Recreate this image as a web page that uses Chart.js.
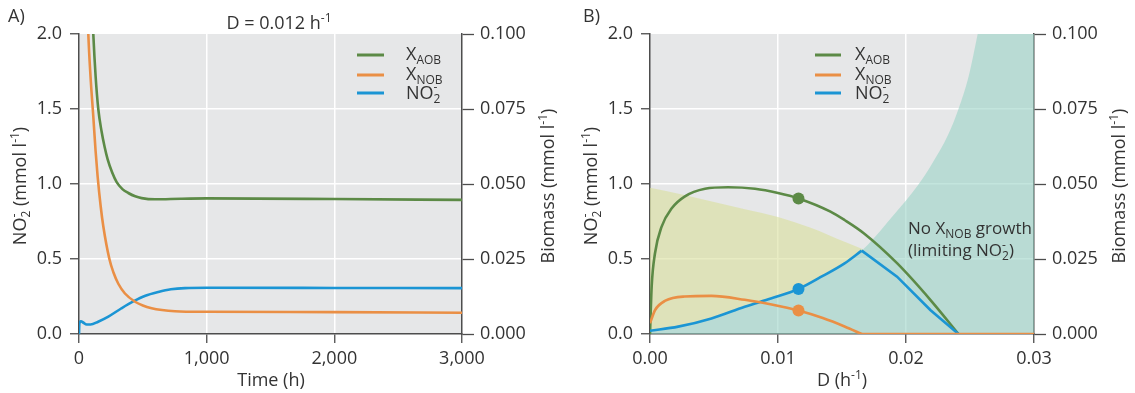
<!DOCTYPE html>
<html>
<head>
<meta charset="utf-8">
<script src="https://cdn.jsdelivr.net/npm/chart.js@4.4.1/dist/chart.umd.min.js"></script>
<style>
body { margin: 0; background: #fff; }
#wrap { position: relative; width: 1135px; height: 393px; }
canvas { position: absolute; top: 0; }
#chartA { left: 0; }
#chartB { left: 567px; }
</style>
</head>
<body>
<div id="wrap">
    <canvas id="chartA" width="567" height="393"></canvas>
    <canvas id="chartB" width="568" height="393"></canvas>
</div>
<script>
// ---- Panel A: D = 0.012 h-1 (tiempo en h) ----
const tiempoAOB = [80, 100, 112, 130, 151, 177, 200, 224, 260, 295, 340, 386, 440, 491, 595, 800, 1000, 2000, 3000];
const xAOB_A = [0.145, 0.113, 0.1, 0.086, 0.075, 0.0675, 0.0625, 0.0583, 0.0538, 0.0506, 0.0483, 0.047, 0.0459, 0.0453, 0.0449, 0.0451, 0.0452, 0.045, 0.0447];
const tiempoNOB = [55, 73, 90, 112, 130, 146, 170, 190, 238, 270, 308, 360, 439, 500, 569, 650, 752, 1000, 2000, 3000];
const xNOB_A = [0.125, 0.1, 0.086, 0.0725, 0.061, 0.0525, 0.0425, 0.036, 0.025, 0.0205, 0.01675, 0.0135, 0.01075, 0.0095, 0.0086, 0.008, 0.0076, 0.0074, 0.0073, 0.0071];
const tiempoNO2 = [0, 3, 15, 35, 60, 90, 150, 230, 330, 425, 520, 621, 720, 830, 1000, 2000, 3000];
const no2A = [0, 0.07, 0.085, 0.075, 0.063, 0.063, 0.082, 0.116, 0.17, 0.217, 0.255, 0.28, 0.298, 0.306, 0.308, 0.307, 0.306];

// ---- Panel B: estado estacionario vs D ----
const dAOB = [0, 0.00013, 0.00039, 0.00091, 0.0017, 0.0027, 0.0043, 0.0061, 0.0082, 0.0100, 0.0116, 0.0141, 0.0152, 0.0167, 0.0193, 0.0219, 0.0241];
const xAOB_B = [0, 0.0158, 0.0269, 0.0358, 0.0419, 0.0458, 0.0484, 0.0489, 0.0484, 0.047, 0.0452, 0.0408, 0.038, 0.0336, 0.0236, 0.0114, 0];
const dNOB = [0, 0.0004, 0.0012, 0.0027, 0.0048, 0.0074, 0.0095, 0.0116, 0.0135, 0.0152, 0.01654];
const xNOB_B = [0.0036, 0.008, 0.0111, 0.0125, 0.0127, 0.0114, 0.0098, 0.0078, 0.0053, 0.0025, 0];
const dCero = [0.01654, 0.03];
const xCero = [0, 0];
const dNO2 = [0, 0.0022, 0.0048, 0.0074, 0.0095, 0.0116, 0.0135, 0.0152, 0.01654, 0.0193, 0.0219, 0.0241];
const no2B = [0.022, 0.049, 0.104, 0.182, 0.238, 0.30, 0.387, 0.471, 0.556, 0.382, 0.16, 0];
const dPunto = 0.0116;
const puntoAOB = 0.0452, puntoNOB = 0.0078, puntoNO2 = 0.30;
// zona sin crecimiento de NOB (limite en NO2-)
const dZonaNOB = [0, 0.0022, 0.0048, 0.0074, 0.0095, 0.0116, 0.0135, 0.0152, 0.01654, 0.0175, 0.0189, 0.0200, 0.0210, 0.0220, 0.0233, 0.0241, 0.0249, 0.0256, 0.027, 0.03];
const limZonaNOB = [0.022, 0.049, 0.104, 0.182, 0.238, 0.30, 0.387, 0.471, 0.556, 0.64, 0.78, 0.89, 1.0, 1.13, 1.33, 1.5, 1.72, 2.0, 2.6, 4.0];
const dZonaAOB = [0, 0.0025, 0.005, 0.0075, 0.01, 0.0125, 0.0152, 0.01665];
const limZonaAOB = [0.975, 0.93, 0.88, 0.83, 0.78, 0.71, 0.615, 0.565];

const ticksNO2 = [0, 2, 0.5];
const ticksBiomasa = [0, 0.1, 0.025];

const verde = '#5c8a46', naranja = '#ea8f45', azul = '#1b95d4';
const colorEje = '#4d4d4d', colorTexto = '#333333', fondoGris = '#e6e7e8';
const familia = '"Open Sans", sans-serif';
const tam = 18;
Chart.defaults.font.family = familia;

function puntos(xs, ys) {
    return xs.map(function (x, i) { return { x: x, y: ys[i] }; });
}

function linea(xs, ys, color, eje, suave) {
    return {
        data: puntos(xs, ys), yAxisID: eje, borderColor: color, borderWidth: 2.6,
        pointRadius: 0, fill: false, tension: 0,
        cubicInterpolationMode: suave ? 'monotone' : 'default'
    };
}

function punto(x, y, color, eje) {
    return {
        data: [{ x: x, y: y }], yAxisID: eje, showLine: false,
        pointRadius: 6, pointBackgroundColor: color, pointBorderWidth: 0
    };
}

// texto con sub/superindices: partes [texto, modo] modo '', 'sub', 'sup', 'ss' (sub + sup apilados)
function textoRico(ctx, partes, x, y, size, align, rot) {
    const grande = size + 'px ' + familia;
    const chico = Math.round(size * 0.68) + 'px ' + familia;
    ctx.save();
    ctx.translate(x, y);
    if (rot) ctx.rotate(rot);
    ctx.textBaseline = 'alphabetic';
    ctx.textAlign = 'left';
    ctx.fillStyle = colorTexto;
    let total = 0;
    const anchos = partes.map(function (p) {
        let w;
        if (p[1] === 'ss') {
            ctx.font = chico;
            w = Math.max(ctx.measureText(p[0]).width, ctx.measureText(p[2]).width);
        } else {
            ctx.font = p[1] ? chico : grande;
            w = ctx.measureText(p[0]).width;
        }
        total += w;
        return w;
    });
    let cx = align === 'center' ? -total / 2 : (align === 'right' ? -total : 0);
    partes.forEach(function (p, i) {
        if (p[1] === 'ss') {
            ctx.font = chico;
            ctx.fillText(p[0], cx, size * 0.24);
            ctx.fillText(p[2], cx, -size * 0.42);
        } else if (p[1] === 'sub') {
            ctx.font = chico;
            ctx.fillText(p[0], cx, size * 0.24);
        } else if (p[1] === 'sup') {
            ctx.font = chico;
            ctx.fillText(p[0], cx, -size * 0.4);
        } else {
            ctx.font = grande;
            ctx.fillText(p[0], cx, 0);
        }
        cx += anchos[i];
    });
    ctx.restore();
}

function leyenda(ctx, x1, x2, xt) {
    const filas = [
        [verde, 55, 60, [['X', ''], ['AOB', 'sub']]],
        [naranja, 75, 80, [['X', ''], ['NOB', 'sub']]],
        [azul, 93, 99, [['NO', ''], ['2', 'ss', '-']]]
    ];
    filas.forEach(function (f) {
        ctx.save();
        ctx.strokeStyle = f[0];
        ctx.lineWidth = 3;
        ctx.beginPath();
        ctx.moveTo(x1, f[1]);
        ctx.lineTo(x2, f[1]);
        ctx.stroke();
        ctx.restore();
        textoRico(ctx, f[3], xt, f[2], tam, 'left');
    });
}

const fondo = {
    id: 'fondo',
    beforeDraw: function (chart) {
        const a = chart.chartArea, ctx = chart.ctx;
        ctx.save();
        ctx.fillStyle = fondoGris;
        ctx.fillRect(a.left, a.top, a.right - a.left, a.bottom - a.top);
        ctx.restore();
    }
};

function colorGrid(c) {
    if (c.index === 0 || c.index === c.scale.ticks.length - 1) return 'rgba(0,0,0,0)';
    return '#ffffff';
}

function ejes(rangoX, formatoX, anchoIzq, anchoDer) {
    const fuente = { size: tam };
    return {
        x: {
            type: 'linear', min: rangoX[0], max: rangoX[1],
            ticks: { stepSize: rangoX[2], callback: formatoX, autoSkip: false, maxRotation: 0, padding: 5, color: colorTexto, font: fuente },
            grid: { color: colorGrid, lineWidth: 1.5, tickColor: colorEje, tickLength: 9, tickWidth: 1.3 },
            border: { color: colorEje, width: 1.5 },
            afterFit: function (s) { s.height = 59; }
        },
        y: {
            position: 'left', min: ticksNO2[0], max: ticksNO2[1],
            ticks: { stepSize: ticksNO2[2], callback: function (v) { return v.toFixed(1); }, padding: 8, color: colorTexto, font: fuente },
            grid: { color: colorGrid, lineWidth: 1.5, tickColor: colorEje, tickLength: 9, tickWidth: 1.3 },
            border: { color: colorEje, width: 1.5 },
            afterFit: function (s) { s.width = anchoIzq; }
        },
        y1: {
            position: 'right', min: ticksBiomasa[0], max: ticksBiomasa[1],
            ticks: { stepSize: ticksBiomasa[2], callback: function (v) { return v.toFixed(3); }, padding: 6, color: colorTexto, font: fuente },
            grid: { drawOnChartArea: false, tickColor: colorEje, tickLength: 12, tickWidth: 1.3 },
            border: { color: colorEje, width: 1.5 },
            afterFit: function (s) { s.width = anchoDer; }
        }
    };
}

const opcionesBase = {
    responsive: false,
    animation: false,
    layout: { padding: { top: 34 } },
    plugins: { legend: { display: false }, tooltip: { enabled: false } }
};

// ---- Panel A ----
const textosA = {
    id: 'textosA',
    afterDraw: function (chart) {
        const ctx = chart.ctx;
        textoRico(ctx, [['A)', '']], 8, 22, tam, 'left');
        textoRico(ctx, [['D = 0.012 h', ''], ['-1', 'sup']], 279, 29, tam, 'center');
        textoRico(ctx, [['NO', ''], ['2', 'ss', '-'], [' (mmol l', ''], ['-1', 'sup'], [')', '']], 26, 186, tam, 'center', -Math.PI / 2);
        textoRico(ctx, [['Biomass (mmol l', ''], ['-1', 'sup'], [')', '']], 554, 186, tam, 'center', -Math.PI / 2);
        textoRico(ctx, [['Time (h)', '']], 271, 386, tam, 'center');
        leyenda(ctx, 357, 384, 406);
    }
};

new Chart(document.getElementById('chartA').getContext('2d'), {
    type: 'line',
    data: {
        datasets: [
            linea(tiempoNOB, xNOB_A, naranja, 'y1', true),
            linea(tiempoNO2, no2A, azul, 'y', true),
            linea(tiempoAOB, xAOB_A, verde, 'y1', true)
        ]
    },
    options: Object.assign({}, opcionesBase, {
        scales: ejes([0, 3000, 1000], function (v) { return v.toLocaleString('en-US'); }, 79, 105)
    }),
    plugins: [fondo, textosA]
});

// ---- Panel B ----
const textosB = {
    id: 'textosB',
    afterDraw: function (chart) {
        const ctx = chart.ctx;
        textoRico(ctx, [['B)', '']], 16, 22, tam, 'left');
        textoRico(ctx, [['NO', ''], ['2', 'ss', '-'], [' (mmol l', ''], ['-1', 'sup'], [')', '']], 30, 186, tam, 'center', -Math.PI / 2);
        textoRico(ctx, [['Biomass (mmol l', ''], ['-1', 'sup'], [')', '']], 558, 186, tam, 'center', -Math.PI / 2);
        textoRico(ctx, [['D (h', ''], ['-1', 'sup'], [')', '']], 275, 386, tam, 'center');
        textoRico(ctx, [['No X', ''], ['NOB', 'sub'], [' growth', '']], 341, 234, 17, 'left');
        textoRico(ctx, [['(limiting NO', ''], ['2', 'ss', '-'], [')', '']], 341, 256, 17, 'left');
        leyenda(ctx, 248, 274, 288);
    }
};

const picoNO2 = no2B.indexOf(Math.max.apply(null, no2B));

new Chart(document.getElementById('chartB').getContext('2d'), {
    type: 'line',
    data: {
        datasets: [
            punto(dPunto, puntoAOB, verde, 'y1'),
            punto(dPunto, puntoNOB, naranja, 'y1'),
            punto(dPunto, puntoNO2, azul, 'y'),
            linea(dNOB, xNOB_B, naranja, 'y1', true),
            linea(dCero, xCero, naranja, 'y1', false),
            linea(dNO2.slice(0, picoNO2 + 1), no2B.slice(0, picoNO2 + 1), azul, 'y', true),
            linea(dNO2.slice(picoNO2), no2B.slice(picoNO2), azul, 'y', false),
            linea(dAOB, xAOB_B, verde, 'y1', true),
            {
                data: puntos(dZonaAOB, limZonaAOB), yAxisID: 'y', borderWidth: 0, pointRadius: 0,
                backgroundColor: 'rgba(217,223,155,0.6)', fill: 9, cubicInterpolationMode: 'monotone'
            },
            {
                data: puntos(dZonaNOB, limZonaNOB), yAxisID: 'y', borderWidth: 0, pointRadius: 0,
                backgroundColor: 'rgba(155,211,199,0.6)', fill: 'origin', cubicInterpolationMode: 'monotone'
            }
        ]
    },
    options: Object.assign({}, opcionesBase, {
        scales: ejes([0, 0.03, 0.01], function (v) { return v.toFixed(2); }, 83, 101)
    }),
    plugins: [fondo, textosB]
});
</script>
</body>
</html>
